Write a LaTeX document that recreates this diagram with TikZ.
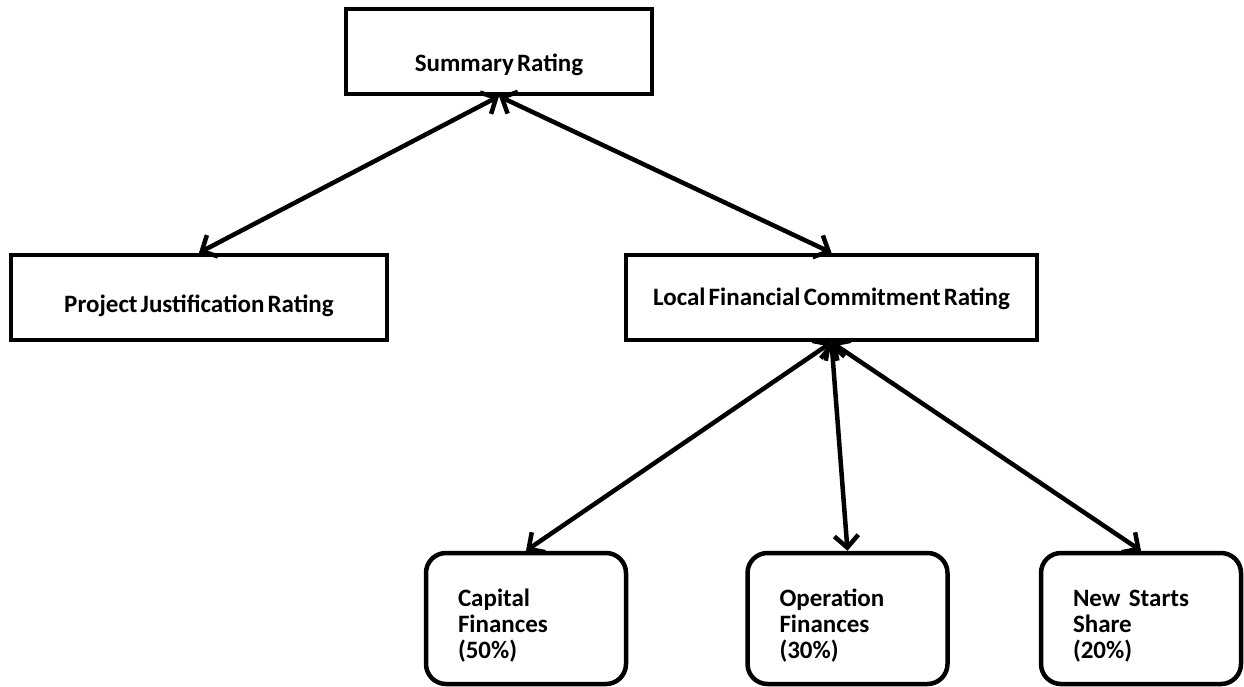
\documentclass[tikz,border=0pt]{standalone}
\usepackage{fontspec}
\setmainfont{Carlito}[WordSpace=0.55]
\usetikzlibrary{arrows.meta}

\begin{document}
\begin{tikzpicture}[x=1pt,y=-1pt,>={Straight Barb[length=12pt,width=24pt]}]

  \tikzstyle{rating}=[rectangle,draw=black,fill=white,line width=4.5pt,
    minimum height=85pt,text depth=0pt,
    font=\fontsize{25}{26}\selectfont\bfseries]
  \tikzstyle{share}=[rectangle,rounded corners=20pt,draw=black,fill=white,
    line width=4.5pt,minimum width=200pt,minimum height=131pt,
    text width=136pt,align=left,execute at begin node={\rule{0pt}{32pt}},
    font=\fontsize{25}{26}\selectfont\bfseries]

  %% \draw [help lines] (0,0) grid (1244,687);
  \useasboundingbox (0,0) rectangle (1244,687);

  \node  (sr)  at (499,51.5)     [rating,minimum width=306pt,text height=40pt] {Summary Rating};
  \node  (pjr) at (199,297.5)    [rating,minimum width=376pt,text height=29pt] {Project Justification Rating};
  \node  (lfc) at (831.5,297.5)  [rating,minimum width=411pt,text height=15pt] {Local Financial Commitment Rating};
  \node  (cap) at (526,618.5)    [share]  {Capital\\Finances\\(50\%)};
  \node  (op)  at (847.5,618.5)  [share]  {Operation\\Finances\\(30\%)};
  \node  (ns)  at (1141,618.5)   [share]  {New Starts\\Share\\(20\%)};

  \tikzstyle{link}=[<->,line width=4.5pt]

  \draw [link] (sr.south)  -- (pjr.north);
  \draw [link] (sr.south)  -- (lfc.north);
  \draw [link] (lfc.south) -- (cap.north);
  \draw [link] (lfc.south) -- (op.north);
  \draw [link] (lfc.south) -- (ns.north);
\end{tikzpicture}
\end{document}
